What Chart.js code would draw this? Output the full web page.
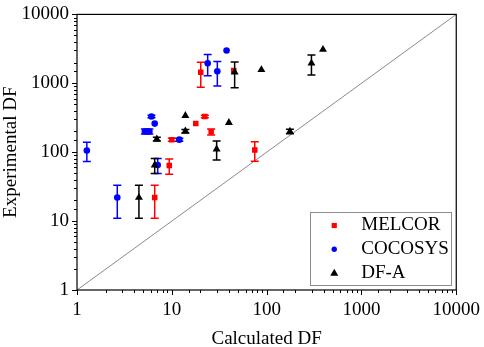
<!DOCTYPE html>
<html><head><meta charset="utf-8">
<script src="https://cdn.jsdelivr.net/npm/chart.js@4/dist/chart.umd.min.js"></script>
<style>html,body{margin:0;padding:0;background:#fff;}canvas{display:block;}</style>
</head><body>
<canvas id="c" width="484" height="347"></canvas>
<script>
// ---- data ----
const seriesNames = ['MELCOR', 'COCOSYS', 'DF-A'];

const melcorX   = [6.6, 9.4, 10.0, 17.9, 22.3, 26, 20.2, 45, 75];
const melcorY   = [22, 64, 152, 260, 330, 198, 1450, 1530, 108];
const melcorErr = [11, 16, 8, 0, 15, 20, 570, 0, 34];

const cocosysX   = [1.27, 2.66, 5.2, 5.8, 6.1, 6.6, 7.1, 12, 23.9, 30.2, 37.8];
const cocosysY   = [106, 22, 200, 200, 330, 260, 65, 152, 1950, 1490, 3000];
const cocosysErr = [33, 11, 17, 17, 15, 0, 16, 8, 660, 580, 0];

const dfaX   = [4.5, 6.6, 6.95, 13.9, 13.9, 29.7, 40, 46, 88, 176, 297, 393];
const dfaY   = [22, 65, 155, 340, 202, 111, 269, 1450, 1570, 200, 1950, 3090];
const dfaErr = [11, 16, 10, 0, 12, 34, 0, 590, 0, 15, 630, 0];

const diagonalX = [1, 10000];
const diagonalY = [1, 10000];

const tickLabels = ['1', '10', '100', '1000', '10000'];
const axisRange = [1, 10000];

// ---- helpers ----
const FONT = 'Liberation Serif, "Times New Roman", serif';
function pts(xs, ys) { return xs.map((x, i) => ({ x: x, y: ys[i] })); }
function isPow10(v) { const l = Math.log10(v); return Math.abs(l - Math.round(l)) < 1e-9; }
function labelFor(v) { if (!isPow10(v)) return ''; const s = String(Math.round(v)); return tickLabels.includes(s) ? s : ''; }

const errorBars = {
  id: 'errorBars',
  afterDatasetDraw(chart, args) {
    const ds = chart.data.datasets[args.index];
    if (!ds.err) return;
    const ctx = chart.ctx, xs = chart.scales.x, ys = chart.scales.y;
    ctx.save();
    ctx.strokeStyle = ds.borderColor;
    ctx.lineWidth = 1.5;
    ds.data.forEach((p, i) => {
      const e = ds.err[i];
      if (!e) return;
      const px = xs.getPixelForValue(p.x);
      const y1 = ys.getPixelForValue(p.y + e);
      const y2 = ys.getPixelForValue(Math.max(p.y - e, 1e-6));
      ctx.beginPath();
      ctx.moveTo(px, y1); ctx.lineTo(px, y2);
      ctx.moveTo(px - 4, y1); ctx.lineTo(px + 4, y1);
      ctx.moveTo(px - 4, y2); ctx.lineTo(px + 4, y2);
      ctx.stroke();
    });
    ctx.restore();
  }
};

const frameTicks = {
  id: 'frameTicks',
  afterDraw(chart) {
    const ctx = chart.ctx, a = chart.chartArea, xs = chart.scales.x, ys = chart.scales.y;
    ctx.save();
    ctx.strokeStyle = '#000';
    ctx.lineWidth = 1.2;
    ctx.strokeRect(a.left, a.top, a.right - a.left, a.bottom - a.top);
    ctx.lineWidth = 1;
    ctx.beginPath();
    xs.ticks.forEach(t => {
      const px = Math.round(xs.getPixelForValue(t.value)) + 0.5;
      const len = isPow10(t.value) ? 5 : 3;
      ctx.moveTo(px, a.bottom); ctx.lineTo(px, a.bottom + len);
    });
    ys.ticks.forEach(t => {
      const py = Math.round(ys.getPixelForValue(t.value)) + 0.5;
      const len = isPow10(t.value) ? 5 : 3;
      ctx.moveTo(a.left, py); ctx.lineTo(a.left - len, py);
    });
    ctx.stroke();

    // legend box in lower right of plot area
    const w = 141, h = 73;
    const bx = a.right - 5 - w, by = a.bottom - 5 - h;
    ctx.strokeStyle = '#8c8c8c';
    ctx.lineWidth = 1;
    ctx.strokeRect(Math.round(bx) + 0.5, Math.round(by) + 0.5, w, h);
    const dsList = [chart.data.datasets[0], chart.data.datasets[1], chart.data.datasets[2]];
    ctx.font = '19px ' + FONT;
    ctx.textBaseline = 'middle';
    ctx.textAlign = 'left';
    dsList.forEach((ds, i) => {
      const cy = by + 13.5 + i * 23.7;
      const mx = bx + 24;
      ctx.fillStyle = ds.backgroundColor;
      ctx.beginPath();
      if (ds.pointStyle === 'rect') {
        ctx.rect(mx - 2.6, cy - 2.6, 5.2, 5.2);
      } else if (ds.pointStyle === 'circle') {
        ctx.arc(mx, cy, 2.7, 0, Math.PI * 2);
      } else {
        ctx.moveTo(mx, cy - 4.2); ctx.lineTo(mx + 4, cy + 2.8); ctx.lineTo(mx - 4, cy + 2.8); ctx.closePath();
      }
      ctx.fill();
      ctx.fillStyle = '#000';
      ctx.fillText(ds.label, bx + 51, cy);
    });
    ctx.restore();
  }
};

const tickFont = { family: FONT, size: 19 };

new Chart(document.getElementById('c'), {
  type: 'scatter',
  data: {
    datasets: [
      { label: seriesNames[0], data: pts(melcorX, melcorY), err: melcorErr, pointStyle: 'rect',
        backgroundColor: '#ff0000', borderColor: '#ff0000', pointRadius: 3.9, pointBorderWidth: 0, order: 2 },
      { label: seriesNames[1], data: pts(cocosysX, cocosysY), err: cocosysErr, pointStyle: 'circle',
        backgroundColor: '#0000ff', borderColor: '#0000ff', pointRadius: 3.3, pointBorderWidth: 0, order: 1 },
      { label: seriesNames[2], data: pts(dfaX, dfaY), err: dfaErr, pointStyle: 'triangle',
        backgroundColor: '#000000', borderColor: '#000000', pointRadius: 4.6, pointBorderWidth: 0, order: 0 },
      { type: 'line', label: 'y=x', data: pts(diagonalX, diagonalY), borderColor: '#8a8a8a', borderWidth: 1,
        pointRadius: 0, fill: false, order: 5 }
    ]
  },
  options: {
    responsive: false,
    animation: false,
    devicePixelRatio: 1,
    layout: { padding: { left: 0, top: 8, right: 25, bottom: 0 } },
    plugins: { legend: { display: false }, tooltip: { enabled: false } },
    scales: {
      x: {
        type: 'logarithmic', min: axisRange[0], max: axisRange[1],
        grid: { display: false, drawTicks: true, tickLength: 5 },
        border: { display: false },
        ticks: { autoSkip: false, maxRotation: 0, minRotation: 0, padding: 4, color: '#000', font: tickFont,
                 callback: (v) => labelFor(v) },
        title: { display: true, text: 'Calculated DF', color: '#000', font: { family: FONT, size: 19, lineHeight: 1 },
                 padding: { top: 0, bottom: -2 } },
        afterFit: (s) => { s.height = 57; }
      },
      y: {
        type: 'logarithmic', min: axisRange[0], max: axisRange[1],
        grid: { display: false, drawTicks: true, tickLength: 5 },
        border: { display: false },
        ticks: { autoSkip: false, padding: 3, color: '#000', font: tickFont,
                 callback: (v) => labelFor(v) },
        title: { display: true, text: 'Experimental DF', color: '#000', font: { family: FONT, size: 19, lineHeight: 1 },
                 padding: { top: 2, bottom: 0 } },
        afterFit: (s) => { s.width = 77; }
      }
    }
  },
  plugins: [errorBars, frameTicks]
});
</script>
</body></html>
